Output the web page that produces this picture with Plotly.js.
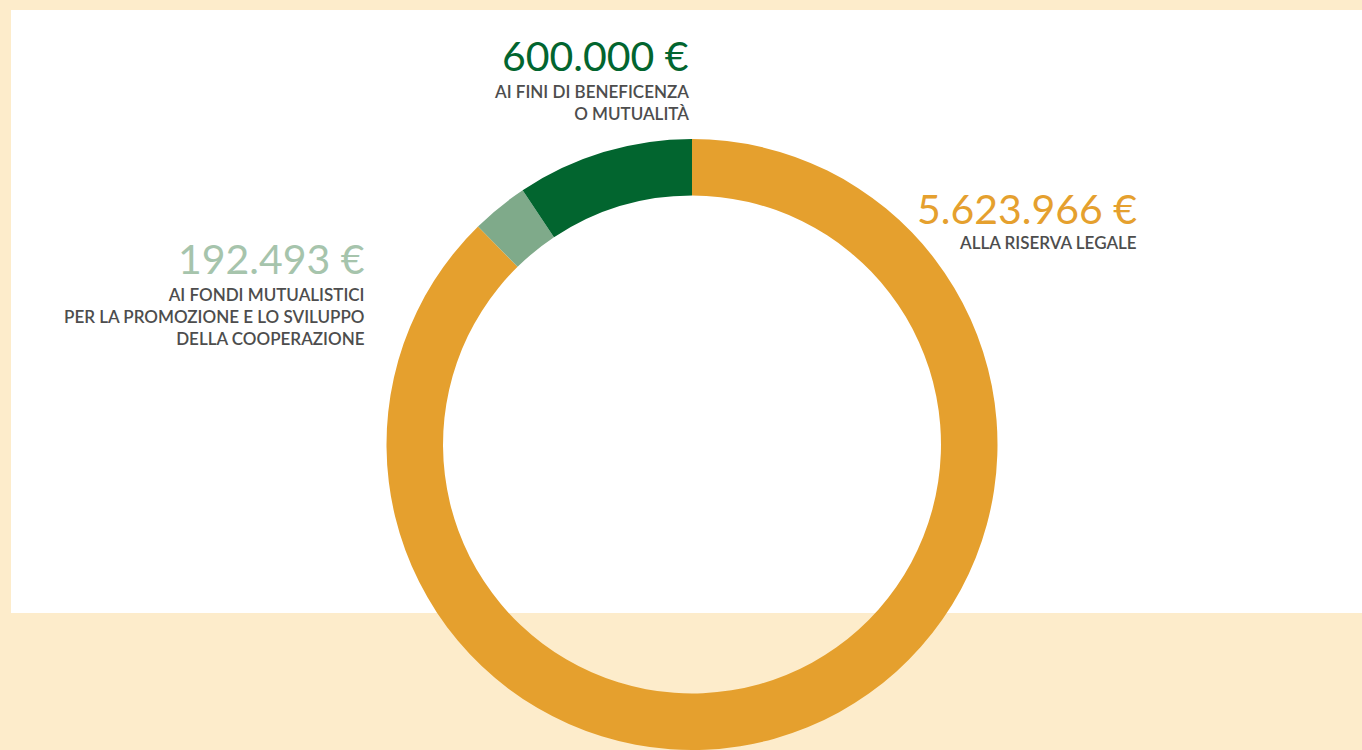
<!DOCTYPE html>
<html>
<head>
<meta charset="utf-8">
<script src="https://cdn.plot.ly/plotly-3.0.1.min.js"></script>
<style>html,body{margin:0;padding:0;background:#FDECCB;overflow:hidden}</style>
</head>
<body>
<div id="chart" style="width:1362px;height:750px"></div>
<script>
const categories = ["Alla riserva legale", "Ai fondi mutualistici", "Ai fini di beneficenza o mutualità"];
const values = [5623966, 192493, 600000];
const valueLabels = ["5.623.966 €", "192.493 €", "600.000 €"];
const descLabels = ["ALLA RISERVA LEGALE", "AI FONDI MUTUALISTICI<br>PER LA PROMOZIONE E LO SVILUPPO<br>DELLA COOPERAZIONE", "AI FINI DI BENEFICENZA<br>O MUTUALITÀ"];
const colors = ["#E5A02E", "#7FAA8A", "#02652F"];
const labelColors = ["#E5A02E", "#A6C4AC", "#02652F"];

const W = 1362, H = 750;
const font = "Lato, 'Open Sans', sans-serif";
// label anchor positions (pixels): [right x, value y, desc first line y]
const pos = [[1139, 208, 241], [367, 258, 293], [691, 56, 90]];

const annotations = [];
categories.forEach((c, i) => {
  const p = pos[i];
  annotations.push({
    xref: "paper", yref: "paper", x: p[0] / W, y: 1 - p[1] / H,
    xanchor: "right", yanchor: "middle", showarrow: false,
    text: valueLabels[i], font: {family: font, size: 41, color: labelColors[i]}
  });
  annotations.push({
    xref: "paper", yref: "paper", x: p[0] / W, y: 1 - (p[2] - 11) / H,
    xanchor: "right", yanchor: "top", align: "right", showarrow: false,
    text: descLabels[i], font: {family: font, size: 17, color: "#4D4D4D", weight: 600}
  });
});

const trace = {
  type: "pie",
  labels: categories,
  values: values,
  sort: false,
  direction: "clockwise",
  rotation: 0,
  hole: 0.815,
  textinfo: "none",
  hoverinfo: "skip",
  showlegend: false,
  marker: {colors: colors, line: {width: 0}},
  domain: {x: [(692 - 320) / W, (692 + 320) / W], y: [0, 1 - 139 / H]}
};

const layout = {
  width: W, height: H,
  margin: {l: 0, r: 0, t: 0, b: 0},
  paper_bgcolor: "#FDECCB",
  plot_bgcolor: "#FDECCB",
  showlegend: false,
  shapes: [{
    type: "rect", xref: "paper", yref: "paper", layer: "below",
    x0: 11 / W, x1: 1, y0: 1 - 613 / H, y1: 1 - 10 / H,
    fillcolor: "#FFFFFF", line: {width: 0}
  }],
  annotations: annotations
};

Plotly.newPlot("chart", [trace], layout, {displayModeBar: false, staticPlot: true});
</script>
</body>
</html>
